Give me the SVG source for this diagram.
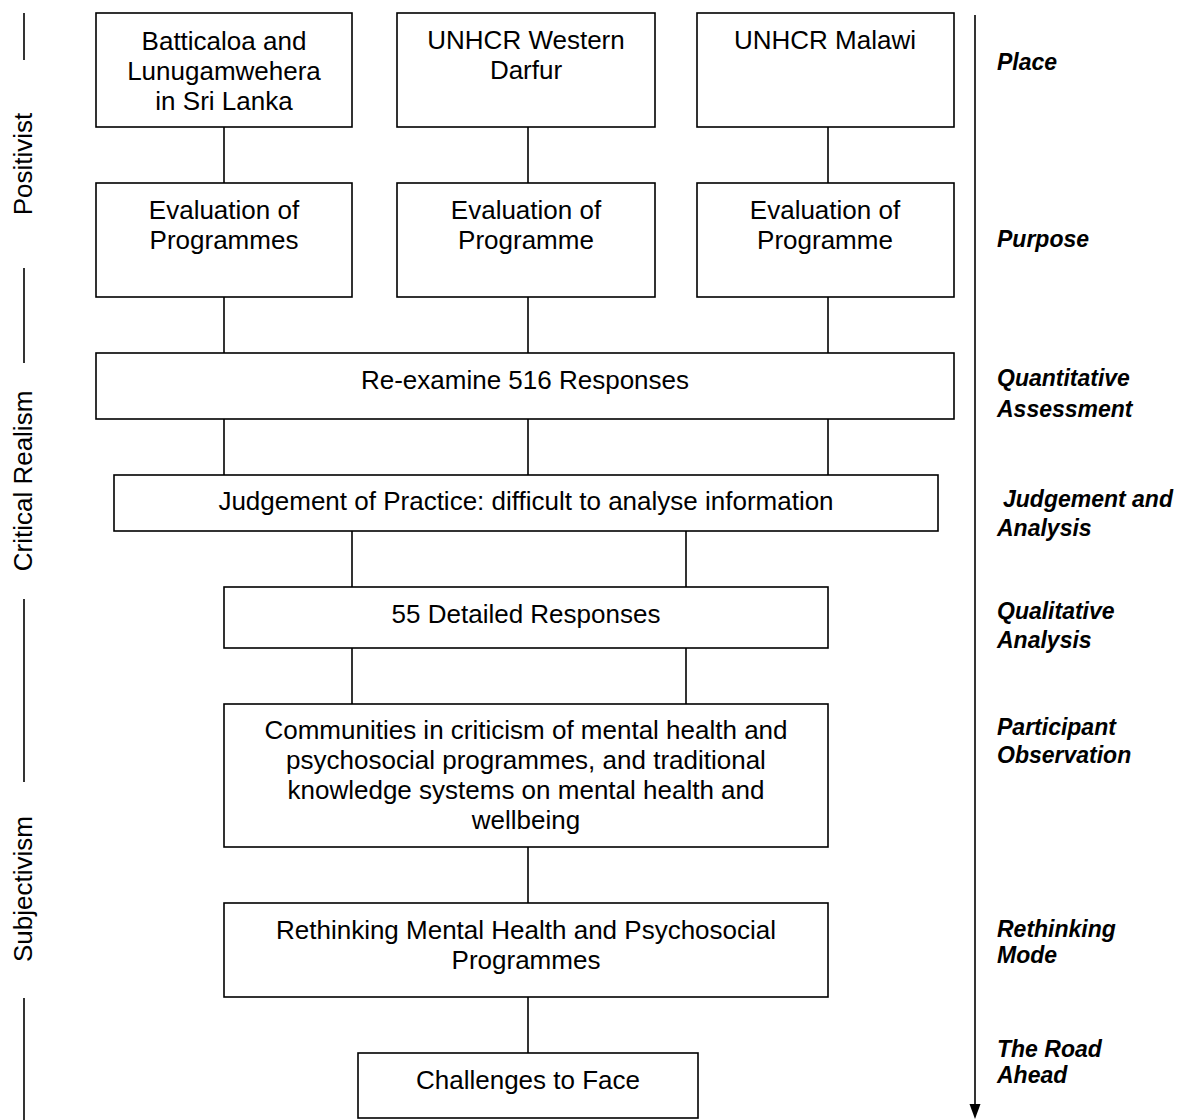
<svg xmlns="http://www.w3.org/2000/svg" width="1198" height="1120" viewBox="0 0 1198 1120">
  <style>
    .box { fill: #fff; stroke: #000; stroke-width: 1.6; }
    .wire { stroke: #000; stroke-width: 1.6; fill: none; }
    .t { font-family: "Liberation Sans", Arial, sans-serif; font-size: 26px; fill: #000; text-anchor: middle; }
    .lab { font-family: "Liberation Sans", Arial, sans-serif; font-size: 23px; font-weight: bold; font-style: italic; fill: #000; }
    .side { font-family: "Liberation Sans", Arial, sans-serif; font-size: 26px; fill: #000; text-anchor: middle; }
  </style>
  <rect width="1198" height="1120" fill="#fff"/>

  <!-- connectors -->
  <g id="connectors" class="wire">
    <line x1="224" y1="127" x2="224" y2="183"/>
    <line x1="528" y1="127" x2="528" y2="183"/>
    <line x1="828" y1="127" x2="828" y2="183"/>
    <line x1="224" y1="297" x2="224" y2="353"/>
    <line x1="528" y1="297" x2="528" y2="353"/>
    <line x1="828" y1="297" x2="828" y2="353"/>
    <line x1="224" y1="419" x2="224" y2="475"/>
    <line x1="528" y1="419" x2="528" y2="475"/>
    <line x1="828" y1="419" x2="828" y2="475"/>
    <line x1="352" y1="531" x2="352" y2="587"/>
    <line x1="686" y1="531" x2="686" y2="587"/>
    <line x1="352" y1="648" x2="352" y2="704"/>
    <line x1="686" y1="648" x2="686" y2="704"/>
    <line x1="528" y1="847" x2="528" y2="903"/>
    <line x1="528" y1="997" x2="528" y2="1053"/>
  </g>

  <!-- places -->
  <g id="place-srilanka">
    <rect class="box" x="96" y="13" width="256" height="114"/>
    <text class="t" x="224" y="50">Batticaloa and</text>
    <text class="t" x="224" y="80">Lunugamwehera</text>
    <text class="t" x="224" y="110">in Sri Lanka</text>
  </g>
  <g id="place-darfur">
    <rect class="box" x="397" y="13" width="258" height="114"/>
    <text class="t" x="526" y="49">UNHCR Western</text>
    <text class="t" x="526" y="79">Darfur</text>
  </g>
  <g id="place-malawi">
    <rect class="box" x="697" y="13" width="257" height="114"/>
    <text class="t" x="825" y="49">UNHCR Malawi</text>
  </g>

  <!-- purposes -->
  <g id="purpose-srilanka">
    <rect class="box" x="96" y="183" width="256" height="114"/>
    <text class="t" x="224" y="219">Evaluation of</text>
    <text class="t" x="224" y="249">Programmes</text>
  </g>
  <g id="purpose-darfur">
    <rect class="box" x="397" y="183" width="258" height="114"/>
    <text class="t" x="526" y="219">Evaluation of</text>
    <text class="t" x="526" y="249">Programme</text>
  </g>
  <g id="purpose-malawi">
    <rect class="box" x="697" y="183" width="257" height="114"/>
    <text class="t" x="825" y="219">Evaluation of</text>
    <text class="t" x="825" y="249">Programme</text>
  </g>

  <g id="reexamine">
    <rect class="box" x="96" y="353" width="858" height="66"/>
    <text class="t" x="525" y="389">Re-examine 516 Responses</text>
  </g>
  <g id="judgement">
    <rect class="box" x="114" y="475" width="824" height="56"/>
    <text class="t" x="526" y="510">Judgement of Practice: difficult to analyse information</text>
  </g>
  <g id="detailed">
    <rect class="box" x="224" y="587" width="604" height="61"/>
    <text class="t" x="526" y="623">55 Detailed Responses</text>
  </g>
  <g id="communities">
    <rect class="box" x="224" y="704" width="604" height="143"/>
    <text class="t" x="526" y="739">Communities in criticism of mental health and</text>
    <text class="t" x="526" y="769">psychosocial programmes, and traditional</text>
    <text class="t" x="526" y="799">knowledge systems on mental health and</text>
    <text class="t" x="526" y="829">wellbeing</text>
  </g>
  <g id="rethinking">
    <rect class="box" x="224" y="903" width="604" height="94"/>
    <text class="t" x="526" y="939">Rethinking Mental Health and Psychosocial</text>
    <text class="t" x="526" y="969">Programmes</text>
  </g>
  <g id="challenges">
    <rect class="box" x="358" y="1053" width="340" height="65"/>
    <text class="t" x="528" y="1089">Challenges to Face</text>
  </g>

  <!-- stage axis on the right -->
  <g id="stage-axis">
    <line class="wire" x1="975" y1="15" x2="975" y2="1106"/>
    <polygon points="969.5,1104 980.5,1104 975,1119" fill="#000"/>
    <text class="lab" x="997" y="70">Place</text>
    <text class="lab" x="997" y="247">Purpose</text>
    <text class="lab" x="997" y="386">Quantitative</text>
    <text class="lab" x="997" y="417">Assessment</text>
    <text class="lab" x="1003" y="507">Judgement and</text>
    <text class="lab" x="997" y="536">Analysis</text>
    <text class="lab" x="997" y="619">Qualitative</text>
    <text class="lab" x="997" y="648">Analysis</text>
    <text class="lab" x="997" y="735">Participant</text>
    <text class="lab" x="997" y="763">Observation</text>
    <text class="lab" x="997" y="937">Rethinking</text>
    <text class="lab" x="997" y="963">Mode</text>
    <text class="lab" x="997" y="1057">The Road</text>
    <text class="lab" x="997" y="1083">Ahead</text>
  </g>

  <!-- paradigm bands on the left -->
  <g id="paradigms">
    <line class="wire" x1="24" y1="13" x2="24" y2="60"/>
    <text class="side" transform="translate(32,164) rotate(-90)">Positivist</text>
    <line class="wire" x1="24" y1="268" x2="24" y2="363"/>
    <text class="side" transform="translate(32,481) rotate(-90)">Critical Realism</text>
    <line class="wire" x1="24" y1="599" x2="24" y2="782"/>
    <text class="side" transform="translate(32,889) rotate(-90)">Subjectivism</text>
    <line class="wire" x1="24" y1="998" x2="24" y2="1120"/>
  </g>
</svg>
